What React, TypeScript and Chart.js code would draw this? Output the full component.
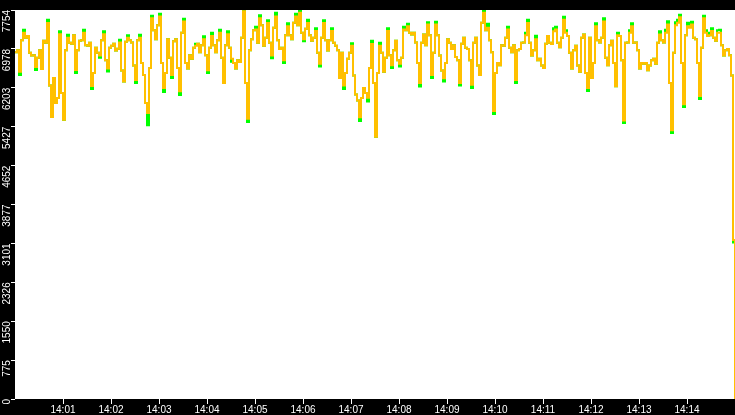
import { useEffect, useRef } from "react";
import { Chart, registerables } from "chart.js";

Chart.register(...registerables);

// one sample every 2.5 s from 14:00:00; the last two samples are the drop at the very end
const regularSeconds = Array.from({ length: 359 }, (_, i) => i * 2.5);
const tailSeconds = [897.5, 900];
const sampleSeconds = regularSeconds.concat(tailSeconds);

const yellowValues = [
  6912, 6950, 6523, 7150, 7300, 7200, 7236, 6900, 6847, 6850,
  6620, 6800, 6950, 6580, 7140, 7100, 7495, 6250, 5620, 6400,
  5900, 6000, 7270, 6100, 5565, 6950, 7200, 7100, 7080, 7250,
  6560, 6950, 7140, 7150, 7300, 7050, 7042, 7100, 6240, 6500,
  7000, 6900, 6847, 7150, 7270, 6750, 6588, 7000, 7042, 7080,
  6945, 6980, 7106, 6550, 6330, 7120, 7200, 7150, 7106, 6650,
  6360, 7150, 7200, 6700, 6459, 5900, 5700, 6600, 7590, 7350,
  7171, 7450, 7624, 6700, 6200, 6500, 7171, 6800, 6459, 7130,
  7171, 6600, 6135, 7300, 7527, 6700, 6588, 6850, 6782, 7000,
  7042, 7080, 6912, 7050, 7171, 6850, 6555, 7000, 7236, 7050,
  6912, 7150, 7300, 6800, 6297, 7050, 7270, 7000, 6782, 6700,
  6588, 6750, 6718, 7200, 7730, 6300, 5584, 6950, 7171, 7350,
  7365, 7100, 7590, 7450, 7042, 7200, 7495, 7100, 6847, 7400,
  7624, 7150, 6977, 7000, 6750, 7250, 7430, 7250, 7171, 7500,
  7624, 7450, 7700, 7300, 7171, 7380, 7495, 7250, 7140, 7200,
  7333, 6900, 6685, 7200, 7495, 7150, 6945, 7150, 7333, 7100,
  7042, 6950, 6400, 6900, 6250, 6500, 6782, 6900, 7042, 6450,
  6070, 5950, 5617, 6000, 6200, 6100, 6005, 6600, 7074, 6300,
  5228, 6500, 7042, 6900, 6523, 6800, 7333, 6850, 6653, 6950,
  7140, 6750, 6685, 6800, 7365, 7350, 7430, 7300, 7268, 7300,
  7106, 6700, 6297, 7100, 7268, 7050, 7463, 7250, 6459, 6900,
  7463, 7250, 6847, 6550, 6394, 6700, 7171, 7100, 6977, 7050,
  6815, 6750, 6297, 7080, 7203, 7000, 6977, 6750, 6265, 7100,
  7203, 6650, 6459, 7500, 7700, 7350, 7398, 7150, 6912, 5740,
  6500, 6700, 6653, 7050, 7042, 7200, 7365, 7000, 6912, 7050,
  6360, 6950, 6977, 7100, 7106, 7250, 7495, 7100, 6847, 6950,
  7171, 6750, 6782, 6650, 6600, 7080, 7236, 7100, 7074, 7330,
  7365, 7100, 7010, 7200, 7560, 7300, 7236, 6900, 6588, 6950,
  7042, 6650, 6523, 7200, 7268, 6500, 6200, 7200, 6400, 6700,
  7430, 7150, 7106, 7200, 7527, 6800, 6653, 7050, 7140, 6700,
  6232, 7250, 7236, 6750, 5552, 7100, 7106, 7300, 7430, 7100,
  7106, 6950, 6588, 6700, 6685, 6700, 6555, 6650, 6750, 6780,
  6685, 7100, 7268, 7150, 7106, 7300, 7463, 6300, 5358, 6900,
  7450, 7500, 7610, 6700, 5876, 7250, 7430, 7400, 7463, 7200,
  7171, 6700, 6038, 7000, 7592, 7300, 7236, 7250, 7333, 7200,
  7140, 7300, 7300, 7050, 6847, 6950, 6977, 6850, 6450,
  3170, 0,
];

const greenValues = [
  6912, 6950, 6459, 7150, 7360, 7200, 7236, 6900, 6847, 6850,
  6560, 6800, 6950, 6580, 7140, 7100, 7560, 6250, 5620, 6400,
  5900, 6000, 7330, 6100, 5565, 6950, 7260, 7100, 7080, 7250,
  6500, 6950, 7140, 7150, 7360, 7050, 7042, 7100, 6180, 6500,
  7000, 6900, 6800, 7150, 7330, 6750, 6530, 7000, 7042, 7080,
  6945, 6980, 7160, 6550, 6330, 7120, 7250, 7150, 7106, 6650,
  6300, 7150, 7260, 6700, 6459, 5900, 5455, 6600, 7640, 7350,
  7171, 7450, 7680, 6700, 6120, 6500, 7171, 6800, 6400, 7130,
  7171, 6600, 6060, 7300, 7580, 6700, 6588, 6850, 6782, 7000,
  7080, 7080, 6912, 7050, 7230, 6850, 6500, 7000, 7300, 7050,
  6912, 7150, 7360, 6800, 6297, 7050, 7330, 7000, 6720, 6700,
  6588, 6750, 6718, 7200, 7754, 6300, 5520, 6950, 7171, 7350,
  7420, 7100, 7650, 7450, 7042, 7200, 7550, 7100, 6790, 7400,
  7700, 7150, 6977, 7000, 6700, 7250, 7490, 7250, 7171, 7500,
  7680, 7450, 7740, 7300, 7130, 7380, 7560, 7250, 7140, 7200,
  7390, 6900, 6630, 7200, 7550, 7150, 6945, 7150, 7390, 7100,
  7042, 6950, 6400, 6900, 6180, 6500, 6782, 6900, 7090, 6450,
  6070, 5950, 5540, 6000, 6200, 6100, 5930, 6600, 7140, 6300,
  5228, 6500, 7100, 6900, 6523, 6800, 7390, 6850, 6600, 6950,
  7140, 6750, 6630, 6800, 7420, 7350, 7480, 7300, 7268, 7300,
  7106, 6700, 6230, 7100, 7268, 7050, 7510, 7250, 6400, 6900,
  7520, 7250, 6847, 6550, 6330, 6700, 7171, 7100, 6977, 7050,
  6815, 6750, 6250, 7080, 7203, 7000, 6977, 6750, 6200, 7100,
  7203, 6650, 6459, 7500, 7740, 7350, 7480, 7150, 6912, 5680,
  6500, 6700, 6653, 7050, 7042, 7200, 7420, 7000, 6912, 7050,
  6300, 6950, 6977, 7100, 7106, 7300, 7560, 7100, 6847, 6950,
  7240, 6750, 6782, 6650, 6600, 7080, 7236, 7100, 7074, 7390,
  7420, 7100, 7010, 7200, 7620, 7350, 7236, 6900, 6588, 6950,
  7042, 6650, 6523, 7200, 7268, 6500, 6140, 7200, 6400, 6700,
  7490, 7150, 7106, 7200, 7590, 6800, 6653, 7050, 7140, 6700,
  6232, 7300, 7236, 6750, 5500, 7100, 7106, 7350, 7490, 7100,
  7106, 6950, 6588, 6700, 6685, 6700, 6555, 6650, 6750, 6780,
  6685, 7100, 7330, 7150, 7106, 7360, 7530, 6300, 5300, 6900,
  7510, 7560, 7660, 6700, 5820, 7250, 7500, 7460, 7520, 7200,
  7171, 6700, 5980, 7000, 7640, 7350, 7300, 7250, 7390, 7200,
  7140, 7350, 7360, 7050, 6847, 6950, 6977, 6850, 6450,
  3120, 0,
];

const yTickValues = [0, 775, 1550, 2326, 3101, 3877, 4652, 5427, 6203, 6978, 7754];
const xTickSeconds = [60, 120, 180, 240, 300, 360, 420, 480, 540, 600, 660, 720, 780, 840];

const tickFont = { family: "Liberation Sans", size: 10 };

const backdrop = {
  id: "backdrop",
  beforeDraw(chart: any) {
    const { ctx, chartArea, width, height } = chart;
    ctx.save();
    ctx.fillStyle = "#000";
    ctx.fillRect(0, 0, width, height);
    ctx.fillStyle = "#fff";
    ctx.fillRect(
      chartArea.left,
      chartArea.top,
      chartArea.right - chartArea.left,
      chartArea.bottom - chartArea.top
    );
    ctx.restore();
  },
};

function toPoints(values: number[]) {
  return values.map((v, i) => ({ x: sampleSeconds[i], y: v }));
}

const TrafficChart = () => {
  const canvasRef = useRef<HTMLCanvasElement | null>(null);

  useEffect(() => {
    document.body.style.margin = "0";
    const ctx = canvasRef.current?.getContext("2d");
    if (!ctx) return;

    const chart = new Chart(ctx, {
      type: "line",
      data: {
        datasets: [
          // first dataset is drawn on top
          {
            data: toPoints(yellowValues),
            borderColor: "#ffc000",
            borderWidth: 2,
            stepped: true,
          },
          {
            data: toPoints(greenValues),
            borderColor: "#00ff00",
            borderWidth: 2,
            stepped: true,
          },
        ],
      },
      options: {
        animation: false,
        responsive: false,
        events: [],
        layout: { padding: 0 },
        elements: {
          point: { radius: 0 },
          line: { tension: 0 },
        },
        plugins: {
          legend: { display: false },
          tooltip: { enabled: false },
        },
        scales: {
          x: {
            type: "linear",
            min: 0,
            max: 900,
            border: { display: false },
            grid: {
              drawOnChartArea: false,
              color: "#fff",
              tickLength: 5,
            },
            ticks: {
              color: "#fff",
              font: tickFont,
              padding: 0,
              maxRotation: 0,
              callback: (value: any) => {
                const m = Math.floor(Number(value) / 60);
                return "14:" + String(m).padStart(2, "0");
              },
            },
            afterBuildTicks: (scale: any) => {
              scale.ticks = xTickSeconds.map((v) => ({ value: v }));
            },
            afterFit: (scale: any) => {
              scale.height = 16;
            },
          },
          y: {
            min: 0,
            max: 7754,
            border: { display: false },
            grid: {
              drawOnChartArea: false,
              color: "#fff",
              tickLength: 4,
            },
            ticks: {
              color: "#fff",
              font: tickFont,
              padding: 4,
              minRotation: 90,
              maxRotation: 90,
              callback: (value: any) => String(Math.floor(Number(value))),
            },
            afterBuildTicks: (scale: any) => {
              scale.ticks = yTickValues.map((v) => ({ value: v }));
            },
            afterFit: (scale: any) => {
              scale.width = 15;
            },
          },
        },
      },
      plugins: [backdrop],
    });

    return () => {
      chart.destroy();
    };
  }, []);

  return <canvas ref={canvasRef} width={735} height={415}></canvas>;
};

export default function App() {
  return (
    <div style={{ width: 735, height: 415 }}>
      <TrafficChart />
    </div>
  );
}
